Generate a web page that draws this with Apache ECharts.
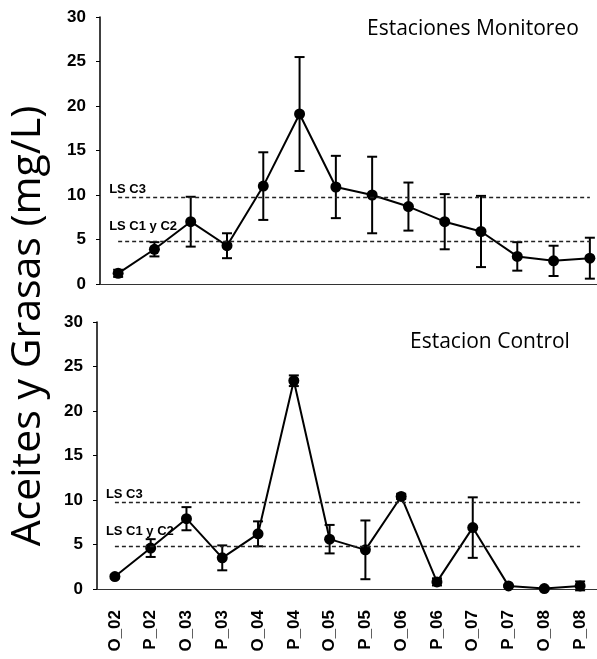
<!DOCTYPE html>
<html><head><meta charset="utf-8">
<script src="https://cdn.jsdelivr.net/npm/echarts@6/dist/echarts.min.js"></script>
<style>html,body{margin:0;padding:0;background:#fff}#c{width:597px;height:659px}</style>
</head><body><div id="c"></div>
<script>
const categories = ['O_02','P_02','O_03','P_03','O_04','P_04','O_05','P_05','O_06','P_06','O_07','P_07','O_08','P_08'];
const yTicks = [0,5,10,15,20,25,30];
const monMean = [1.2, 3.9, 7.0, 4.3, 11.0, 19.1, 10.9, 10.0, 8.7, 7.0, 5.9, 3.1, 2.6, 2.9];
const monErr  = [0.4, 0.8, 2.8, 1.4, 3.8, 6.4, 3.5, 4.3, 2.7, 3.1, 4.0, 1.6, 1.7, 2.3];
const ctlMean = [1.4, 4.6, 7.9, 3.5, 6.2, 23.4, 5.6, 4.4, 10.4, 0.8, 6.9, 0.35, 0.05, 0.35];
const ctlErr  = [0.2, 1.0, 1.3, 1.4, 1.4, 0.6, 1.6, 3.3, 0.3, 0.4, 3.4, 0.1, 0.1, 0.5];
const limitC3 = 9.7;
const limitC12 = 4.8;
const limitNames = ['LS C3', 'LS C1 y C2'];
const titles = ['Estaciones Monitoreo', 'Estacion Control'];
const yName = 'Aceites y Grasas (mg/L)';

const chart = echarts.init(document.getElementById('c'), null, {renderer:'canvas'});

function errItem(params, api){
  const x = api.value(0);
  const lo = api.coord([x, api.value(1)]);
  const hi = api.coord([x, api.value(2)]);
  const w = 5;
  const st = {stroke:'#000', lineWidth:2};
  return {type:'group', children:[
    {type:'line', shape:{x1:lo[0],y1:lo[1],x2:hi[0],y2:hi[1]}, style:st},
    {type:'line', shape:{x1:lo[0]-w,y1:lo[1],x2:lo[0]+w,y2:lo[1]}, style:st},
    {type:'line', shape:{x1:hi[0]-w,y1:hi[1],x2:hi[0]+w,y2:hi[1]}, style:st}
  ]};
}
function errData(m, e){ return m.map((v,i)=>[i, v-e[i], v+e[i]]); }

function limitLine(v, name, dy){
  return [{xAxis:0, yAxis:v, name:name, label:{distance:[-9, dy]}}, {xAxis:categories.length-1, yAxis:v}];
}
const mlStyle = {color:'#222', type:[4,3], width:1.3};
function markLines(){
  return {
    silent:true, symbol:['none','none'],
    lineStyle: mlStyle,
    label:{show:true, position:'insideStartTop', formatter:'{b}', color:'#000', fontSize:13, fontWeight:'bold', fontFamily:'Liberation Sans Narrow, Liberation Sans'},
    data:[limitLine(limitC3, limitNames[0], 2), limitLine(limitC12, limitNames[1], 8)]
  };
}

const yAxisBase = {
  type:'value', min:0, max:30, interval:5,
  axisLine:{show:true, lineStyle:{color:'#000', width:1.5}},
  axisTick:{show:true, length:4, lineStyle:{color:'#000'}},
  splitLine:{show:false},
  axisLabel:{color:'#000', fontSize:17, fontWeight:'bold', fontFamily:'Liberation Sans', margin:14,
    customValues: yTicks}
};

const option = {
  backgroundColor:'#fff',
  animation:false,
  title:[
    {text:titles[0], left:362, top:14, textStyle:{fontSize:21, fontWeight:'normal', fontFamily:'Open Sans', color:'#000'}},
    {text:titles[1], left:405, top:327, textStyle:{fontSize:21, fontWeight:'normal', fontFamily:'Open Sans', color:'#000'}}
  ],
  graphic:[{type:'text', x:28, y:326, rotation:Math.PI/2, style:{text:yName, fontSize:41, fontFamily:'Open Sans', fill:'#000', align:'center', verticalAlign:'middle'}}],
  grid:[
    {left:100, top:17, height:267, width:508, outerBoundsMode:'none', containLabel:false},
    {left:97, top:322, height:267, width:501, outerBoundsMode:'none', containLabel:false}
  ],
  xAxis:[
    {type:'category', gridIndex:0, data:categories, axisLine:{lineStyle:{color:'#333', width:1}}, axisTick:{lineStyle:{color:'#000'}, length:4}, axisLabel:{show:false}},
    {type:'category', gridIndex:1, data:categories, axisLine:{lineStyle:{color:'#333', width:1}}, axisTick:{lineStyle:{color:'#000'}, length:4},
      axisLabel:{rotate:90, color:'#000', fontSize:17, fontWeight:'bold', fontFamily:'Liberation Sans', margin:21}}
  ],
  yAxis:[
    Object.assign({gridIndex:0}, yAxisBase),
    Object.assign({gridIndex:1}, yAxisBase)
  ],
  series:[
    {type:'custom', xAxisIndex:0, yAxisIndex:0, renderItem:errItem, data:errData(monMean, monErr), encode:{x:0, y:[1,2]}, z:3},
    {type:'line', xAxisIndex:0, yAxisIndex:0, data:monMean, symbol:'circle', symbolSize:11, itemStyle:{color:'#000'}, lineStyle:{color:'#000', width:2}, z:4, markLine:markLines()},
    {type:'custom', xAxisIndex:1, yAxisIndex:1, renderItem:errItem, data:errData(ctlMean, ctlErr), encode:{x:0, y:[1,2]}, z:3},
    {type:'line', xAxisIndex:1, yAxisIndex:1, data:ctlMean, symbol:'circle', symbolSize:11, itemStyle:{color:'#000'}, lineStyle:{color:'#000', width:2}, z:4, markLine:markLines()}
  ]
};
chart.setOption(option);
</script></body></html>
